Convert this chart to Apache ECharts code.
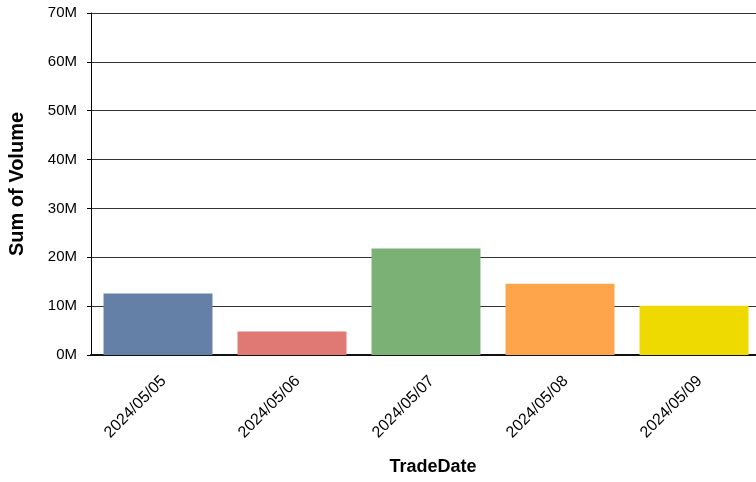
<!DOCTYPE html>
<html lang="en">
<head>
    <meta charset="UTF-8">
    <title></title>
    <script src="https://cdn.jsdelivr.net/npm/echarts@6/dist/echarts.min.js"></script>
    <style>
        html, body { margin: 0; padding: 0; background: #fff; }
    </style>
</head>
<body>
    <div id="charts" style="width: 756px;height:482px;"></div>
    <script type="text/javascript">
        // data
        var dates = ['2024/05/05', '2024/05/06', '2024/05/07', '2024/05/08', '2024/05/09'];
        var volume = [12600000, 4800000, 21800000, 14600000, 10100000];
        var colors = ['#6480a6', '#e07873', '#7bb174', '#fea54b', '#eed900'];

        var myChart = echarts.init(document.getElementById('charts'));
        var option = {
            animation: false,
            textStyle: { fontFamily: 'Liberation Sans, Arial, sans-serif' },
            grid: {
                left: 91,
                right: -5,
                top: 13,
                bottom: 127,
                outerBoundsMode: 'none',
                containLabel: false
            },
            xAxis: {
                type: 'category',
                data: dates,
                name: 'TradeDate',
                nameLocation: 'middle',
                nameGap: 103,
                nameTextStyle: { fontSize: 18, fontWeight: 'bold', color: '#000', padding: [0, 0, 0, 14] },
                axisLine: { lineStyle: { color: '#111', width: 2 } },
                axisTick: { show: false },
                axisLabel: {
                    rotate: 45,
                    interval: 0,
                    fontSize: 16,
                    color: '#000',
                    align: 'right',
                    verticalAlign: 'top',
                    margin: 18,
                    padding: [0, 0, 0, 0]
                }
            },
            yAxis: {
                type: 'value',
                min: 0,
                max: 70000000,
                interval: 10000000,
                name: 'Sum of Volume',
                nameLocation: 'middle',
                nameGap: 64,
                nameTextStyle: { fontSize: 20, fontWeight: 'bold', color: '#000' },
                axisLine: { show: true, lineStyle: { color: '#000', width: 1 } },
                axisTick: { show: true, length: 4, lineStyle: { color: '#000' } },
                axisLabel: {
                    fontSize: 15,
                    color: '#000',
                    margin: 14,
                    formatter: function (v) { return (v / 1000000) + 'M'; }
                },
                splitLine: { lineStyle: { color: '#333', width: 1 } }
            },
            series: [
                {
                    type: 'bar',
                    data: volume,
                    barCategoryGap: '18.7%',
                    itemStyle: {
                        color: function (p) { return colors[p.dataIndex]; }
                    }
                }
            ]
        };
        myChart.setOption(option);
    </script>
</body>
</html>
